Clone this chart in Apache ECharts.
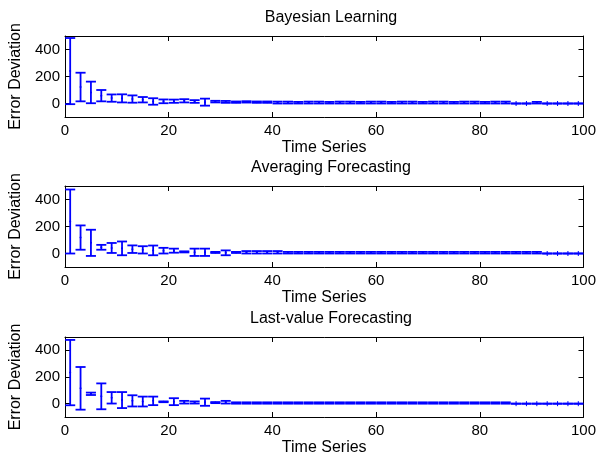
<!DOCTYPE html>
<html>
<head>
<meta charset="utf-8">
<script src="https://cdn.jsdelivr.net/npm/echarts@6/dist/echarts.min.js"></script>
<style>
html,body{margin:0;padding:0;background:#fff;}
#chart{width:599px;height:457px;}
</style>
</head>
<body>
<div id="chart"></div>
<script>
// ---- data ----
const timeSeries = [1,3,5,7,9,11,13,15,17,19,21,23,25,27,29,31,33,35,37,39,41,43,45,47,49,51,53,55,57,59,61,63,65,67,69,71,73,75,77,79,81,83,85,87,89,91,93,95,97,99];

const titles = ['Bayesian Learning', 'Averaging Forecasting', 'Last-value Forecasting'];
const xTickValues = [0, 20, 40, 60, 80, 100];
const yTickValues = [0, 200, 400];

const bayesMean = [240,122,82,58,40,38,33,28,15,16, 17,20,15,10,14,12,10,12,10,10, 7,7,6,7,7,6,7,7,6,7, 7,6,7,7,6,7,7,6,7,7, 6,7,7,0,0,6,0,0,0,0];
const bayesErr  = [245,106,80,42,27,30,27,20,24,14, 12,12,10,26,6,7,5,5,5,5, 7,7,6,7,7,6,7,7,6,7, 7,6,7,7,6,7,7,6,7,7, 6,7,7,0,0,6,0,0,0,0];

const avgMean = [237,118,79,46,41,38,32,27,23,21, 21,12,9,9,8,5,8,9,9,9, 9,6,6,6,6,6,6,6,6,6, 6,6,6,6,6,6,6,6,6,6, 6,6,6,6,6,6,0,0,0,0];
const avgErr  = [237,90,97,18,37,51,28,27,36,21, 15,4,27,27,4,18,4,9,9,9, 9,6,6,6,6,6,6,6,6,6, 6,6,6,6,6,6,6,6,6,6, 6,6,6,6,6,6,0,0,0,0];

const lastMean = [233,115,74,55,44,27,21,16,21,14, 15,11,9,11,8,11,5,5,5,5, 5,5,5,5,5,5,5,5,5,5, 5,5,5,5,5,5,5,5,5,5, 5,5,5,0,0,0,0,0,0,0];
const lastErr  = [245,160,9,97,43,60,42,37,32,3, 26,10,8,27,4,10,5,5,5,5, 5,5,5,5,5,5,5,5,5,5, 5,5,5,5,5,5,5,5,5,5, 5,5,5,0,0,0,0,0,0,0];

const means = [bayesMean, avgMean, lastMean];
const errs = [bayesErr, avgErr, lastErr];

// ---- layout ----
const BLUE = '#0000ff';
const FONT = 'Liberation Sans, Arial, Helvetica, sans-serif';
const gridTops = [36, 186, 337];
const gridH = 81;

const chart = echarts.init(document.getElementById('chart'), null, {renderer: 'canvas'});

function renderErrorBar(params, api) {
  const x = api.value(0), m = api.value(1), e = api.value(2);
  const top = api.coord([x, m + e]);
  const bot = api.coord([x, m - e]);
  const c = api.coord([x, m]);
  const hw = api.size([0.97, 0])[0];
  const st = {stroke: BLUE, lineWidth: 1.8, fill: null};
  const children = [
    {type: 'line', shape: {x1: top[0], y1: top[1], x2: bot[0], y2: bot[1]}, style: st},
    {type: 'line', shape: {x1: top[0] - hw, y1: top[1], x2: top[0] + hw, y2: top[1]}, style: st},
    {type: 'line', shape: {x1: bot[0] - hw, y1: bot[1], x2: bot[0] + hw, y2: bot[1]}, style: st}
  ];
  if (e > 0) {
    children.push({type: 'circle', shape: {cx: c[0], cy: c[1], r: 1}, style: {fill: BLUE}});
  } else {
    children.push({type: 'line', shape: {x1: c[0], y1: c[1] - 2.5, x2: c[0], y2: c[1] + 2.5}, style: {stroke: BLUE, lineWidth: 1}});
  }
  return {type: 'group', children: children};
}

const grids = [], xAxes = [], yAxes = [], series = [], titleList = [];
const axisLineStyle = {show: true, onZero: false, lineStyle: {color: '#000', width: 1}};

for (let i = 0; i < 3; i++) {
  grids.push({left: 65, right: 13, top: gridTops[i], height: gridH, containLabel: false, show: false});
  titleList.push({
    text: titles[i], left: 326, top: gridTops[i] - 31, textAlign: 'center',
    textStyle: {fontFamily: FONT, fontSize: 16, fontWeight: 'normal', color: '#000'}
  });
  xAxes.push({
    type: 'value', gridIndex: i, position: 'bottom', min: 0, max: 100, interval: 20,
    name: 'Time Series', nameLocation: 'middle', nameGap: 23,
    nameTextStyle: {fontFamily: FONT, fontSize: 16, color: '#000'},
    axisLine: axisLineStyle,
    axisTick: {show: true, inside: true, length: 5, lineStyle: {color: '#000'}},
    axisLabel: {fontFamily: FONT, fontSize: 15, color: '#000', margin: 6,
      formatter: v => xTickValues.includes(v) ? String(v) : ''},
    splitLine: {show: false}
  });
  xAxes.push({
    type: 'value', gridIndex: i, position: 'top', min: 0, max: 100, interval: 20,
    axisLine: axisLineStyle,
    axisTick: {show: true, inside: true, length: 5, lineStyle: {color: '#000'}},
    axisLabel: {show: false}, splitLine: {show: false}
  });
  yAxes.push({
    type: 'value', gridIndex: i, position: 'left', min: -100, max: 500,
    name: 'Error Deviation', nameLocation: 'middle', nameGap: 35,
    nameTextStyle: {fontFamily: FONT, fontSize: 16, color: '#000'},
    axisLine: axisLineStyle,
    axisTick: {show: true, inside: true, length: 5, customValues: yTickValues, lineStyle: {color: '#000'}},
    axisLabel: {fontFamily: FONT, fontSize: 15, color: '#000', margin: 5, customValues: yTickValues},
    splitLine: {show: false}
  });
  yAxes.push({
    type: 'value', gridIndex: i, position: 'right', min: -100, max: 500,
    axisLine: axisLineStyle,
    axisTick: {show: true, inside: true, length: 5, customValues: yTickValues, lineStyle: {color: '#000'}},
    axisLabel: {show: false, customValues: yTickValues},
    splitLine: {show: false}
  });
  const data = timeSeries.map((x, k) => [x, means[i][k], errs[i][k]]);
  series.push({
    type: 'custom', xAxisIndex: 2 * i, yAxisIndex: 2 * i,
    renderItem: renderErrorBar, data: data,
    encode: {x: 0, y: 1}, clip: false, silent: true
  });
}

chart.setOption({
  animation: false,
  backgroundColor: '#fff',
  title: titleList,
  grid: grids,
  xAxis: xAxes,
  yAxis: yAxes,
  series: series
});
</script>
</body>
</html>
